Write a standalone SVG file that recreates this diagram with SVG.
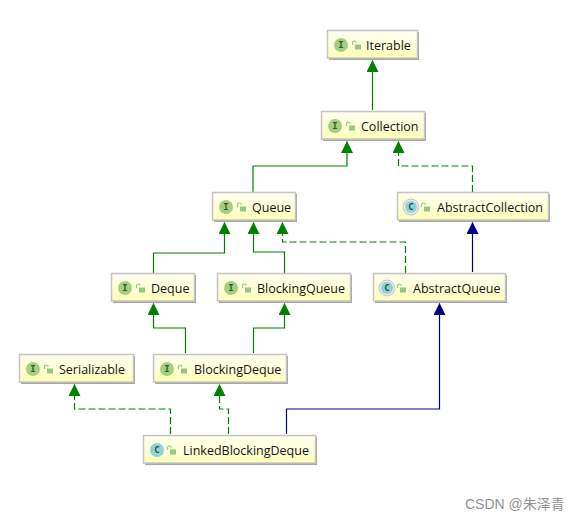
<svg xmlns="http://www.w3.org/2000/svg" width="580" height="520" viewBox="0 0 580 520">
<style>
.box{fill:url(#nodeFill);stroke:#c4c4c4;stroke-width:1.5}
.shadow{fill:#a6a6a6}
.lbl{font-family:"Open Sans","Noto Sans",sans-serif;font-size:12.500px;fill:#141414}
.ic{fill:#a5cf80}
.cc{fill:#8fd3d8}
.it{font-family:"DejaVu Sans Mono",monospace;font-size:9px;font-weight:bold;fill:#3f4f30;text-anchor:middle}
.g{fill:none;stroke:#008000;stroke-width:1.200}
.b{fill:none;stroke:#000088;stroke-width:1.200}
.d{stroke-dasharray:7 3}
.lk{fill:#93c87f}
.sh{fill:none;stroke:#93c87f;stroke-width:1.200}
.wm{font-family:"Liberation Sans","Noto Sans CJK SC",sans-serif;font-size:14px;fill:#939393}
</style>
<defs>
<linearGradient id="nodeFill" x1="0" y1="0" x2="0" y2="1"><stop offset="0" stop-color="#ffffef"/><stop offset="0.6" stop-color="#ffffd8"/><stop offset="1" stop-color="#ffffb0"/></linearGradient>
<marker id="ag" markerUnits="userSpaceOnUse" markerWidth="12" markerHeight="12" refX="11.500" refY="6" orient="auto" viewBox="0 0 12 12"><path d="M12 6L0 0V12Z" fill="#008000"/></marker>
<marker id="ab" markerUnits="userSpaceOnUse" markerWidth="12" markerHeight="12" refX="11.500" refY="6" orient="auto" viewBox="0 0 12 12"><path d="M12 6L0 0V12Z" fill="#000088"/></marker>
<g id="lock"><rect x="0" y="3.500" width="6" height="5" class="lk"/><path d="M-2.500 4V1.800a1.800 1.800 0 0 1 3.600 0" class="sh"/></g>
</defs>
<rect width="580" height="520" fill="#fff"/>
<g id="connectors">
<path class="g" marker-end="url(#ag)" d="M372.500 110V60.500"/>
<path class="g" marker-end="url(#ag)" d="M253 192V166H347V141.500"/>
<path class="g d" marker-end="url(#ag)" d="M472.500 192V166H398.500V141.500"/>
<path class="g" marker-end="url(#ag)" d="M153.500 273V253H224.500V222.500"/>
<path class="g" marker-end="url(#ag)" d="M284.500 273V252H253.500V222.500"/>
<path class="g d" marker-end="url(#ag)" d="M405.500 273V242H282.500V222.500"/>
<path class="b" marker-end="url(#ab)" d="M472.500 272V222.500"/>
<path class="g" marker-end="url(#ag)" d="M185.500 353V328H153.500V303.500"/>
<path class="g" marker-end="url(#ag)" d="M253.500 353V328H284.500V303.500"/>
<path class="b" marker-end="url(#ab)" d="M286.500 434V409H439.500V303.500"/>
<path class="g d" marker-end="url(#ag)" d="M170.500 434V409H74.500V384.500"/>
<path class="g d" marker-end="url(#ag)" d="M228.500 434V409H219.500V384.500"/>
</g>
<g id="iterable"><rect class="shadow" x="329" y="32" width="90" height="28"/><rect class="box" x="327.500" y="30.500" width="90" height="27.500"/><circle class="ic" cx="341" cy="45" r="7"/><text class="it" x="341" y="48">I</text><use href="#lock" x="355" y="41"/><text class="lbl" x="366" y="49.500">Iterable</text></g>
<g id="collection"><rect class="shadow" x="323" y="113" width="103" height="28"/><rect class="box" x="321.500" y="111.500" width="103" height="27.500"/><circle class="ic" cx="335" cy="126" r="7"/><text class="it" x="335" y="129">I</text><use href="#lock" x="349" y="122"/><text class="lbl" x="361" y="130.500">Collection</text></g>
<g id="queue"><rect class="shadow" x="214" y="194" width="83" height="28"/><rect class="box" x="212.500" y="192.500" width="83" height="27.500"/><circle class="ic" cx="226" cy="207" r="7"/><text class="it" x="226" y="210">I</text><use href="#lock" x="240" y="203"/><text class="lbl" x="252" y="211.500">Queue</text></g>
<g id="abstractcollection"><rect class="shadow" x="399" y="194" width="151" height="28"/><rect class="box" x="397.500" y="192.500" width="151" height="27.500"/><circle cx="411" cy="207" r="8" fill="#e8e8e8" stroke="#c8c8c8"/><circle class="cc" cx="411" cy="207" r="6"/><text class="it" x="411" y="210">C</text><use href="#lock" x="424" y="203"/><text class="lbl" x="437" y="211.500">AbstractCollection</text></g>
<g id="deque"><rect class="shadow" x="113" y="275" width="83" height="28"/><rect class="box" x="111.500" y="273.500" width="83" height="27.500"/><circle class="ic" cx="125" cy="288" r="7"/><text class="it" x="125" y="291">I</text><use href="#lock" x="139" y="284"/><text class="lbl" x="151" y="292.500">Deque</text></g>
<g id="blockingqueue"><rect class="shadow" x="219" y="275" width="133" height="28"/><rect class="box" x="217.500" y="273.500" width="133" height="27.500"/><circle class="ic" cx="231" cy="288" r="7"/><text class="it" x="231" y="291">I</text><use href="#lock" x="245" y="284"/><text class="lbl" x="257" y="292.500">BlockingQueue</text></g>
<g id="abstractqueue"><rect class="shadow" x="375" y="275" width="132" height="28"/><rect class="box" x="373.500" y="273.500" width="132" height="27.500"/><circle cx="387" cy="288" r="8" fill="#e8e8e8" stroke="#c8c8c8"/><circle class="cc" cx="387" cy="288" r="6"/><text class="it" x="387" y="291">C</text><use href="#lock" x="400" y="284"/><text class="lbl" x="413" y="292.500">AbstractQueue</text></g>
<g id="serializable"><rect class="shadow" x="21" y="356" width="114" height="28"/><rect class="box" x="19.500" y="354.500" width="114" height="27.500"/><circle class="ic" cx="33" cy="369" r="7"/><text class="it" x="33" y="372">I</text><use href="#lock" x="47" y="365"/><text class="lbl" x="59" y="373.500">Serializable</text></g>
<g id="blockingdeque"><rect class="shadow" x="155" y="356" width="133" height="28"/><rect class="box" x="153.500" y="354.500" width="133" height="27.500"/><circle class="ic" cx="167" cy="369" r="7"/><text class="it" x="167" y="372">I</text><use href="#lock" x="181" y="365"/><text class="lbl" x="194" y="373.500">BlockingDeque</text></g>
<g id="linkedblockingdeque"><rect class="shadow" x="145" y="437" width="172" height="28"/><rect class="box" x="143.500" y="435.500" width="172" height="27.500"/><circle class="cc" cx="157" cy="450" r="7"/><text class="it" x="157" y="453">C</text><use href="#lock" x="170" y="446"/><text class="lbl" x="183" y="454.500">LinkedBlockingDeque</text></g>
<text class="wm" x="465" y="509">CSDN @朱泽青</text>
</svg>
